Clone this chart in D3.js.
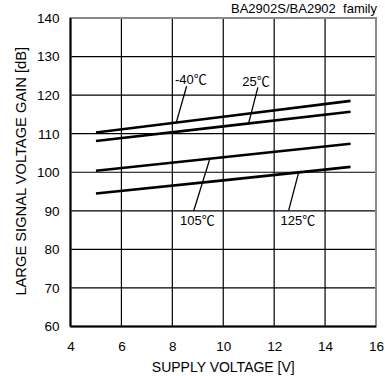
<!DOCTYPE html>
<html>
<head>
<meta charset="utf-8">
<script src="https://cdn.jsdelivr.net/npm/d3@7"></script>
<style>
  body { margin: 0; background: #fff; }
  text { font-family: "Liberation Sans", Arial, sans-serif; fill: #000; }
</style>
</head>
<body>
<div id="chart"></div>
<script>
// supply voltage [V]
var supplyVoltage = [5, 10, 15];

// gain [dB] per temperature
var gainM40 = [110.3, 114.4, 118.5];
var gain25  = [108.1, 111.9, 115.7];
var gain105 = [100.4, 103.9, 107.4];
var gain125 = [94.5, 97.9, 101.4];

var xTicks = [4, 6, 8, 10, 12, 14, 16];
var yTicks = [60, 70, 80, 90, 100, 110, 120, 130, 140];

// label text, label anchor (data units), leader line from -> to (data units)
var labels = [
  {temp: "-40", lx: 8.1,   ly: 123.0, x1: 8.56,  y1: 122.3, x2: 8.16,  y2: 113.0},
  {temp: "25",  lx: 10.75, ly: 122.3, x1: 11.36, y1: 122.0, x2: 11.0,  y2: 112.8},
  {temp: "105", lx: 8.3,   ly: 86.3,  x1: 9.47,  y1: 103.4, x2: 8.84,  y2: 90.0},
  {temp: "125", lx: 12.25, ly: 86.3,  x1: 12.96, y1: 99.9,  x2: 12.57, y2: 90.1}
];

var margin = {left: 70.5, top: 18, right: 9, bottom: 49.5},
    width = 385 - margin.left - margin.right,
    height = 376 - margin.top - margin.bottom;

var svg = d3.select("#chart").append("svg")
    .attr("width", 385)
    .attr("height", 376);

var g = svg.append("g")
    .attr("transform", "translate(" + margin.left + "," + margin.top + ")");

var x = d3.scaleLinear().domain([4, 16]).range([0, width]);
var y = d3.scaleLinear().domain([60, 140]).range([height, 0]);

// grid
g.append("g")
    .selectAll("line")
    .data(xTicks.slice(1, -1))
  .enter().append("line")
    .attr("x1", function(d) { return x(d); })
    .attr("x2", function(d) { return x(d); })
    .attr("y1", 0)
    .attr("y2", height)
    .attr("stroke", "#000")
    .attr("stroke-width", 1.2);

g.append("g")
    .selectAll("line")
    .data(yTicks.slice(1, -1))
  .enter().append("line")
    .attr("x1", 0)
    .attr("x2", width)
    .attr("y1", function(d) { return y(d); })
    .attr("y2", function(d) { return y(d); })
    .attr("stroke", "#000")
    .attr("stroke-width", 1.2);

// frame: top/right grey, left/bottom black
g.append("rect")
    .attr("width", width)
    .attr("height", height)
    .attr("fill", "none")
    .attr("stroke", "#8a8a8a")
    .attr("stroke-width", 2);
g.append("line").attr("x1", 0).attr("x2", 0).attr("y1", 0).attr("y2", height)
    .attr("stroke", "#000").attr("stroke-width", 2);
g.append("line").attr("x1", 0).attr("x2", width).attr("y1", height).attr("y2", height)
    .attr("stroke", "#000").attr("stroke-width", 2);

// axes (labels only)
var xAxis = g.append("g")
    .attr("transform", "translate(0," + height + ")")
    .call(d3.axisBottom(x).tickValues(xTicks).tickSize(0).tickPadding(15));
var yAxis = g.append("g")
    .call(d3.axisLeft(y).tickValues(yTicks).tickSize(0).tickPadding(11));
[xAxis, yAxis].forEach(function(a) {
  a.select(".domain").remove();
  a.selectAll("text")
    .style("font-family", "'Liberation Sans', Arial, sans-serif")
    .style("font-size", "13.5px")
    .attr("fill", "#000");
});

// curves
var line = d3.line()
    .x(function(d) { return x(d[0]); })
    .y(function(d) { return y(d[1]); });

[gainM40, gain25, gain105, gain125].forEach(function(s) {
  g.append("path")
    .datum(d3.zip(supplyVoltage, s))
    .attr("d", line)
    .attr("fill", "none")
    .attr("stroke", "#000")
    .attr("stroke-width", 2.6);
});

// leader lines + labels
labels.forEach(function(l) {
  g.append("line")
    .attr("x1", x(l.x1)).attr("y1", y(l.y1))
    .attr("x2", x(l.x2)).attr("y2", y(l.y2))
    .attr("stroke", "#000")
    .attr("stroke-width", 1.3);
  var t = g.append("text")
    .attr("x", x(l.lx))
    .attr("y", y(l.ly))
    .style("font-size", "13px");
  t.append("tspan").text(l.temp);
  t.append("tspan")
    .style("font-family", "'Noto Sans CJK JP', sans-serif")
    .text("\u2103");
});

// titles
svg.append("text")
    .attr("x", margin.left + width / 2)
    .attr("y", 372)
    .attr("text-anchor", "middle")
    .style("font-size", "14px")
    .text("SUPPLY VOLTAGE [V]");

svg.append("text")
    .attr("transform", "translate(25.5," + (margin.top + height / 2 - 1) + ") rotate(-90)")
    .attr("text-anchor", "middle")
    .style("font-size", "14.7px")
    .text("LARGE SIGNAL VOLTAGE GAIN [dB]");

svg.append("text")
    .attr("x", 377)
    .attr("y", 13)
    .attr("text-anchor", "end")
    .style("font-size", "13px")
    .style("white-space", "pre")
    .text("BA2902S/BA2902  family");
</script>
</body>
</html>
